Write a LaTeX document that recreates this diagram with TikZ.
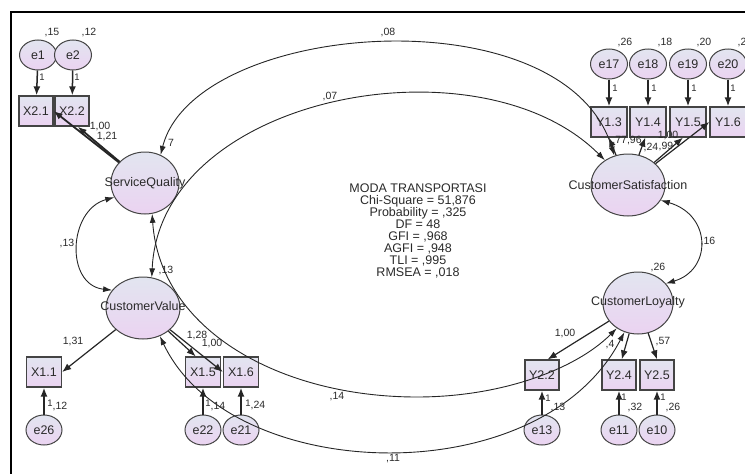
\documentclass[tikz,border=0pt]{standalone}
\usepackage{fontspec}
\setmainfont{Liberation Sans}
\usetikzlibrary{shapes.geometric,arrows.meta}
\definecolor{topc}{HTML}{E2E5F0}
\definecolor{botc}{HTML}{EBD3F1}
\definecolor{bordc}{HTML}{444444}
\definecolor{txtc}{HTML}{2A2A2A}
\begin{document}
\begin{tikzpicture}[x=1pt,y=-1pt,
  latent/.style={ellipse,draw=bordc,line width=1pt,top color=topc,bottom color=botc,inner sep=0pt,minimum height=62pt},
  errv/.style={ellipse,draw=bordc,line width=1pt,top color=topc,bottom color=botc,inner sep=0pt,minimum width=37pt,minimum height=30pt,font=\fontsize{12.5}{14}\selectfont,text=txtc},
  obs/.style={rectangle,draw=bordc,line width=1.3pt,top color=topc,bottom color=botc,inner sep=0pt,minimum width=35pt,minimum height=30pt,font=\fontsize{12.5}{14}\selectfont,text=txtc},
  vartxt/.style={font=\fontsize{12.5}{14}\selectfont,text=txtc,inner sep=0pt},
  lbl/.style={font=\fontsize{10.5}{12}\selectfont,text=txtc,inner sep=0pt},
  onetxt/.style={font=\fontsize{9.5}{11}\selectfont,text=txtc,inner sep=0pt},
  errarr/.style={-{Latex[length=9pt,width=7pt]},line width=1.5pt,draw=black!85},
  loadarr/.style={-{Latex[length=9pt,width=7pt]},line width=1.2pt,draw=black!85},
  cov/.style={{Latex[length=9pt,width=6pt]}-{Latex[length=9pt,width=6pt]},line width=0.9pt,draw=black!85}]
\useasboundingbox (0,0) rectangle (745,474);
\draw[line width=1.8pt] (11,474) -- (11,12) -- (745,12);

% latent variables
\node[latent,minimum width=68pt] (sq) at (145,183) {};
\node[latent,minimum width=74pt] (cv) at (143,308) {};
\node[latent,minimum width=74pt] (cs) at (628,185) {};
\node[latent,minimum width=70pt] (cl) at (638,303) {};
\node[vartxt] (sqt) at (145,183) {ServiceQuality};
\node[vartxt] (cvt) at (143,306) {CustomerValue};
\node[vartxt] (cst) at (628,185) {CustomerSatisfaction};
\node[vartxt] (clt) at (638,302) {CustomerLoyalty};

% observed and error variables
\node[errv] (e1) at (38,55) {e1};
\node[errv] (e2) at (73,55) {e2};
\node[obs,minimum width=34pt] (x21) at (36,111) {X2.1};
\node[obs,minimum width=34pt] (x22) at (72,111) {X2.2};

\node[errv] (e17) at (609,64) {e17};
\node[errv] (e18) at (648,64) {e18};
\node[errv] (e19) at (688,64) {e19};
\node[errv] (e20) at (728,64) {e20};
\node[obs,minimum width=36pt] (y13) at (609,122) {Y1.3};
\node[obs,minimum width=36pt] (y14) at (648,122) {Y1.4};
\node[obs,minimum width=36pt] (y15) at (688,122) {Y1.5};
\node[obs,minimum width=36pt] (y16) at (728,122) {Y1.6};

\node[obs] (x11) at (44,372) {X1.1};
\node[obs] (x15) at (203,372) {X1.5};
\node[obs] (x16) at (241,372) {X1.6};
\node[errv,minimum width=36pt] (e26) at (44,430) {e26};
\node[errv,minimum width=36pt] (e22) at (203,430) {e22};
\node[errv,minimum width=36pt] (e21) at (241,430) {e21};

\node[obs,minimum width=34pt] (y22) at (542,375) {Y2.2};
\node[obs,minimum width=34pt] (y24) at (619,375) {Y2.4};
\node[obs,minimum width=34pt] (y25) at (657,375) {Y2.5};
\node[errv,minimum width=36pt] (e13) at (542,430) {e13};
\node[errv,minimum width=36pt] (e11) at (619,430) {e11};
\node[errv,minimum width=36pt] (e10) at (657,430) {e10};

% fit statistics
\node[align=center,font=\fontsize{12.5}{12.1}\selectfont,text=txtc,inner sep=0pt] (fit) at (418,231)
 {MODA TRANSPORTASI\\Chi-Square = 51,876\\Probability = ,325\\DF = 48\\GFI = ,968\\AGFI = ,948\\TLI = ,995\\RMSEA = ,018};

% error arrows
\draw[errarr] (e1) -- (x21);
\draw[errarr] (e2) -- (x22);
\draw[errarr] (e17) -- (y13);
\draw[errarr] (e18) -- (y14);
\draw[errarr] (e19) -- (y15);
\draw[errarr] (e20) -- (y16);
\draw[errarr] (e26) -- (x11);
\draw[errarr] (e22) -- (x15);
\draw[errarr] (e21) -- (x16);
\draw[errarr] (e13) -- (y22);
\draw[errarr] (e11) -- (y24);
\draw[errarr] (e10) -- (y25);

% loadings
\draw[loadarr,line width=1.8pt] (sq) -- (x21.east);
\draw[loadarr,line width=1.8pt] (sq) -- (x22.-70);
\draw[loadarr] (cs) -- (y13.south);
\draw[loadarr] (cs) -- (y14.-100);
\draw[loadarr] (cs) -- (y15.-108);
\draw[loadarr] (cs) -- (y16.west);
\draw[loadarr] (cv) -- (x11.east);
\draw[loadarr] (cv) -- (x15.115);
\draw[loadarr] (cv) -- (x16.west);
\draw[loadarr] (cl) -- (y22.70);
\draw[loadarr] (cl) -- (y24.80);
\draw[loadarr] (cl) -- (y25.north);

% covariances
\draw[cov] (sq.61) .. controls (195,20) and (565,-8) .. (cs.115);
\draw[cov] (cs.133) .. controls (480,35) and (160,95) .. (cv.74);
\draw[cov] (sq.-77) .. controls (160,330) and (280,397) .. (417,397) .. controls (500,397) and (575,370) .. (cl.230);
\draw[cov] (cv.-59) .. controls (230,485) and (540,495) .. (cl.245);
\draw[cov] (sq.205) .. controls (68,210) and (65,285) .. (cv.150);
\draw[cov] (cs.-25) .. controls (712,215) and (712,270) .. (cl.35);

% labels
\node[lbl] (v1) at (52,33) {,15};
\node[lbl] (v2) at (89,33) {,12};
\node[onetxt] (o1) at (42,77) {1};
\node[onetxt] (o2) at (77,77) {1};
\node[lbl] (l1) at (100,127) {1,00};
\node[lbl] (l2) at (107,137) {1,21};
\node[lbl] (vsq) at (171,143) {7};
\node[lbl] (c08) at (388,33) {,08};
\node[lbl] (c07) at (330,97) {,07};
\node[lbl] (c13a) at (67,244) {,13};
\node[lbl] (vcv) at (166,271) {,13};
\node[lbl] (c14) at (337,397) {,14};
\node[lbl] (c11) at (393,459) {,11};
\node[lbl] (c16) at (708,242) {,16};
\node[lbl] (v17) at (625,43) {,26};
\node[lbl] (v18) at (665,43) {,18};
\node[lbl] (v19) at (704,43) {,20};
\node[lbl] (v20) at (742,43) {,2};
\node[onetxt] (o17) at (615,88) {1};
\node[onetxt] (o18) at (654,88) {1};
\node[onetxt] (o19) at (694,88) {1};
\node[onetxt] (o20) at (733,88) {1};
\node[lbl] (l3) at (627,141) {,77,96};
\node[lbl] (l4) at (651,148) {,24};
\node[lbl] (l5) at (668,136) {1,00};
\node[lbl] (l6) at (666,147) {,99};
\node[lbl] (l7) at (73,342) {1,31};
\node[lbl] (l8) at (197,336) {1,28};
\node[lbl] (l9) at (212,344) {1,00};
\node[onetxt] (o26) at (50,403) {1};
\node[onetxt] (o22) at (208,403) {1};
\node[onetxt] (o21) at (248,403) {1};
\node[lbl] (v26) at (60,407) {,12};
\node[lbl] (v22) at (218,407) {,14};
\node[lbl] (v21) at (258,406) {,24};
\node[lbl] (vcl) at (658,268) {,26};
\node[lbl] (l10) at (565,334) {1,00};
\node[lbl] (l11) at (610,345) {,4};
\node[lbl] (l12) at (663,342) {,57};
\node[onetxt] (o13) at (548,398) {1};
\node[onetxt] (o11) at (624,397) {1};
\node[onetxt] (o10) at (663,397) {1};
\node[lbl] (v13) at (558,408) {,13};
\node[lbl] (v11) at (635,408) {,32};
\node[lbl] (v10) at (673,408) {,26};
\end{tikzpicture}
\end{document}
